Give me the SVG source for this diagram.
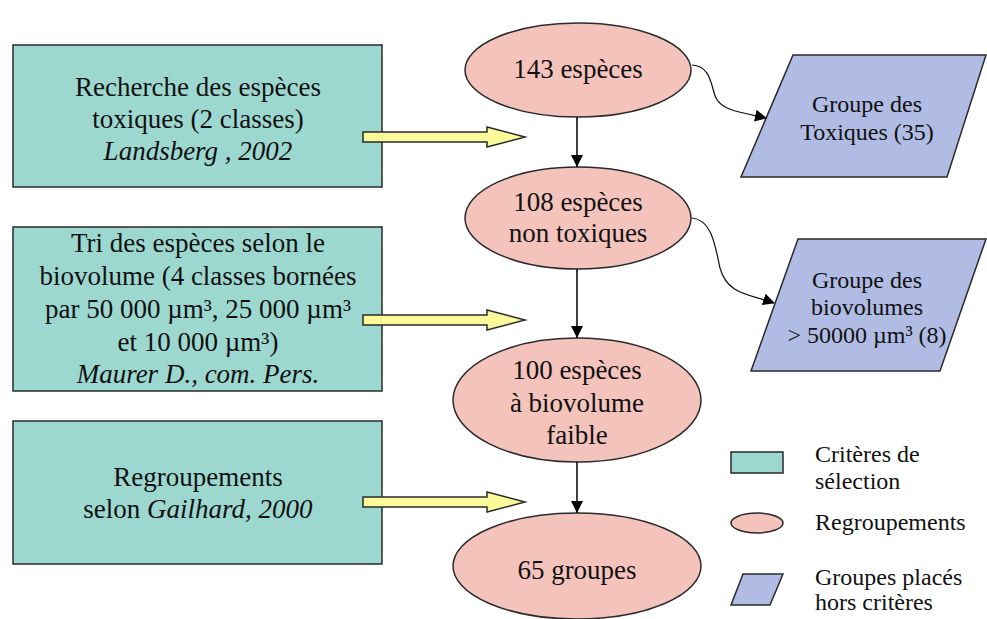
<svg xmlns="http://www.w3.org/2000/svg" width="987" height="619" viewBox="0 0 987 619" font-family="'Liberation Serif', 'Times New Roman', Times, serif">
<defs>
<style>
.crit{fill:#9dd8d0;stroke:#2a2a2a;stroke-width:1.5}
.grp{fill:#f4c4bc;stroke:#2a2a2a;stroke-width:1.5}
.hors{fill:#b0bce4;stroke:#2a2a2a;stroke-width:1.5}
.yel{fill:#fafa9a;stroke:#2a2a2a;stroke-width:1.5;stroke-linejoin:miter}
text{font-family:'Liberation Serif','Times New Roman',Times,serif;fill:#111}
.t{font-size:27px;text-anchor:middle}
.s{font-size:24px;text-anchor:middle}
.l{font-size:24px}
.i{font-style:italic}
.edge{fill:none;stroke:#000;stroke-width:1.5}
.wave{fill:none;stroke:#111;stroke-width:1.2}
</style>
<marker id="ah" markerWidth="12" markerHeight="12" viewBox="0 0 12 12" refX="12" refY="6" orient="auto" markerUnits="userSpaceOnUse">
<path d="M0,0 L12,6 L0,12 Z" fill="#000"/>
</marker>
<marker id="ahs" markerWidth="12" markerHeight="12" viewBox="0 0 12 12" refX="11" refY="6" orient="auto" markerUnits="userSpaceOnUse">
<path d="M0,0 L12,6 L0,12 Z" fill="#000"/>
</marker>
</defs>
<rect width="987" height="619" fill="#fff"/>

<g id="crit1">
<rect class="crit" x="13" y="45" width="369" height="142"/>
<text class="t" x="198" y="96">Recherche des espèces</text>
<text class="t" x="198" y="128">toxiques (2 classes)</text>
<text class="t i" x="198" y="160">Landsberg , 2002</text>
</g>
<g id="crit2">
<rect class="crit" x="13" y="227" width="369" height="164"/>
<text class="t" x="198" y="252">Tri des espèces selon le</text>
<text class="t" x="198" y="285">biovolume (4 classes bornées</text>
<text class="t" x="198" y="318">par 50 000 µm³, 25 000 µm³</text>
<text class="t" x="198" y="351">et 10 000 µm³)</text>
<text class="t i" x="198" y="383">Maurer D., com. Pers.</text>
</g>
<g id="crit3">
<rect class="crit" x="13" y="421" width="369" height="143"/>
<text class="t" x="198" y="486">Regroupements</text>
<text class="t" x="198" y="518">selon <tspan class="i">Gailhard, 2000</tspan></text>
</g>

<g id="arrows-yellow">
<polygon class="yel" points="363,132 487,132 487,127 525,137 487,147 487,142 363,142"/>
<polygon class="yel" points="363,315 487,315 487,310 525,320 487,330 487,325 363,325"/>
<polygon class="yel" points="363,497 487,497 487,492 525,502 487,512 487,507 363,507"/>
</g>

<g id="e1">
<ellipse class="grp" cx="578" cy="70" rx="113" ry="47"/>
<text class="t" x="578" y="78">143 espèces</text>
</g>
<g id="e2">
<ellipse class="grp" cx="578" cy="218" rx="113" ry="51"/>
<text class="t" x="578" y="211">108 espèces</text>
<text class="t" x="578" y="242">non toxiques</text>
</g>
<g id="e3">
<ellipse class="grp" cx="577" cy="400" rx="124" ry="62"/>
<text class="t" x="577" y="379">100 espèces</text>
<text class="t" x="577" y="412">à biovolume</text>
<text class="t" x="577" y="444">faible</text>
</g>
<g id="e4">
<ellipse class="grp" cx="577" cy="566" rx="124" ry="53"/>
<text class="t" x="577" y="579">65 groupes</text>
</g>

<g id="p1">
<polygon class="hors" points="793,55 986,55 947,177 741,177"/>
<text class="s" x="867" y="112">Groupe des</text>
<text class="s" x="867" y="140">Toxiques (35)</text>
</g>
<g id="p2">
<polygon class="hors" points="798,239 986,239 940,371 751,371"/>
<text class="s" x="867" y="288">Groupe des</text>
<text class="s" x="867" y="315">biovolumes</text>
<text class="s" x="867" y="343">&gt; 50000 µm³ (8)</text>
</g>

<g id="connectors">
<line class="edge" x1="577" y1="117" x2="577" y2="167" marker-end="url(#ah)"/>
<line class="edge" x1="577" y1="269" x2="577" y2="338" marker-end="url(#ah)"/>
<line class="edge" x1="577" y1="462" x2="577" y2="513" marker-end="url(#ah)"/>
<path class="wave" d="M692,65 C712,66 711,88 716,98 C722,110 738,112 766,118" marker-end="url(#ahs)"/>
<path class="wave" d="M692,218 C712,220 715,245 720,268 C727,294 748,294 774,303" marker-end="url(#ahs)"/>
</g>

<g id="legend">
<rect class="crit" x="731" y="452" width="52" height="21"/>
<text class="l" x="815" y="462">Critères de</text>
<text class="l" x="815" y="489">sélection</text>
<ellipse class="grp" cx="757" cy="523" rx="26" ry="10"/>
<text class="l" x="815" y="530">Regroupements</text>
<polygon class="hors" points="743,574 783,574 770,605 731,605"/>
<text class="l" x="815" y="585">Groupes placés</text>
<text class="l" x="815" y="610">hors critères</text>
</g>
</svg>
